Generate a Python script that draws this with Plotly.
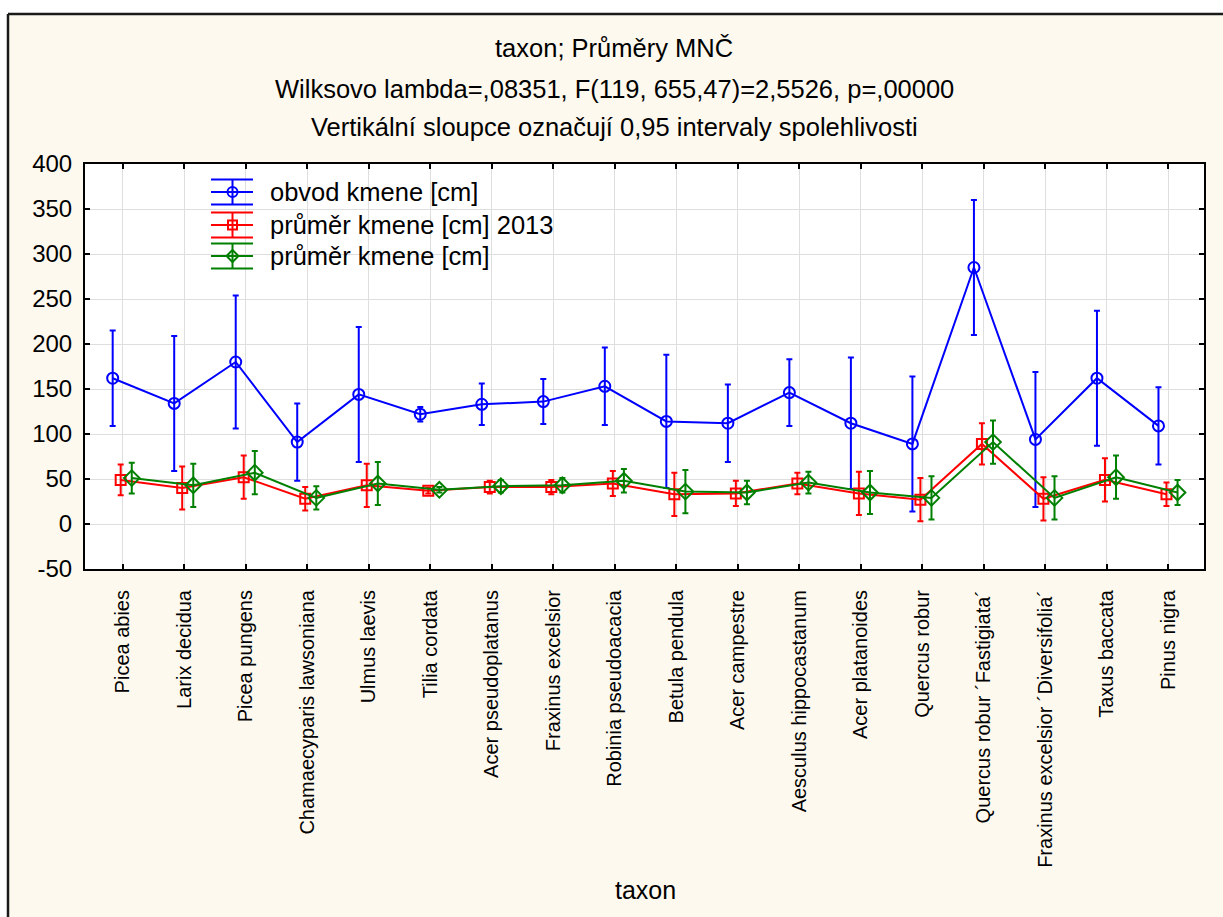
import plotly.graph_objects as go

# Taxa on the x axis
taxa = [
    "Picea abies", "Larix decidua", "Picea pungens", "Chamaecyparis lawsoniana",
    "Ulmus laevis", "Tilia cordata", "Acer pseudoplatanus", "Fraxinus excelsior",
    "Robinia pseudoacacia", "Betula pendula", "Acer campestre",
    "Aesculus hippocastanum", "Acer platanoides", "Quercus robur",
    "Quercus robur \u00b4Fastigiata\u00b4", "Fraxinus excelsior \u00b4Diversifolia\u00b4",
    "Taxus baccata", "Pinus nigra",
]

# Least-squares means and 0.95 confidence half-widths
obvod_mean = [162, 134, 180, 91, 144, 122, 133, 136, 153, 114, 112, 146, 112, 89, 285, 94, 162, 109]
obvod_ci = [53, 75, 74, 43, 75, 8, 23, 25, 43, 74, 43, 37, 73, 75, 75, 75, 75, 43]

prumer2013_mean = [49, 40, 52, 28, 43, 37, 41, 41, 45, 33, 34, 45, 34, 27, 89, 28, 49, 33]
prumer2013_ci = [17, 24, 24, 13, 24, 3, 7, 8, 14, 24, 14, 12, 24, 24, 23, 24, 24, 13]

prumer_mean = [51, 43, 57, 29, 45, 38, 42, 43, 48, 36, 35, 46, 35, 29, 91, 29, 52, 35]
prumer_ci = [17, 24, 24, 13, 24, 3, 7, 8, 13, 24, 13, 12, 24, 24, 24, 24, 24, 14]

# y axis ticks
y_ticks = [-50, 0, 50, 100, 150, 200, 250, 300, 350, 400]
y_ticktext = [str(v) for v in y_ticks]

series = [
    ("obvod kmene [cm]", obvod_mean, obvod_ci, "#0000ff", "circle-open", 11, -0.16),
    ("pr\u016fm\u011br kmene [cm] 2013", prumer2013_mean, prumer2013_ci, "#ff0000", "square-open", 10, -0.03),
    ("pr\u016fm\u011br kmene [cm]", prumer_mean, prumer_ci, "#008000", "diamond-open", 12, 0.15),
]

W, H = 1223, 917
ML, MR, MT, MB = 85, 19, 164, 348
PW, PH = W - ML - MR, H - MT - MB
FONT = "Liberation Sans, Arial, sans-serif"
CREAM = "#fdf9ee"


def fx(px):
    return (px - ML) / PW


def fy(py):
    return (MT + PH - py) / PH


fig = go.Figure()
for name, mean, ci, color, symbol, size, off in series:
    fig.add_trace(go.Scatter(
        x=[i + off for i in range(len(taxa))],
        y=mean,
        mode="lines+markers",
        name=name,
        line=dict(color=color, width=2),
        marker=dict(symbol=symbol, size=size, color=color, line=dict(width=2, color=color)),
        error_y=dict(type="data", array=ci, visible=True, color=color, thickness=2, width=3),
        showlegend=False,
    ))

shapes = []
# white margin strips and the dark frame edge of the panel
shapes.append(dict(type="rect", xref="paper", yref="paper", x0=fx(-5), x1=fx(W + 5),
                   y0=fy(-5), y1=fy(13), fillcolor="white", line=dict(width=0)))
shapes.append(dict(type="rect", xref="paper", yref="paper", x0=fx(-5), x1=fx(7),
                   y0=fy(-5), y1=fy(H + 5), fillcolor="white", line=dict(width=0)))
shapes.append(dict(type="line", xref="paper", yref="paper", x0=fx(8), x1=fx(W + 5),
                   y0=fy(14), y1=fy(14), line=dict(color="#1a1a1a", width=2.5)))
shapes.append(dict(type="line", xref="paper", yref="paper", x0=fx(8), x1=fx(8),
                   y0=fy(14), y1=fy(H + 5), line=dict(color="#1a1a1a", width=2.5)))

annotations = []
# custom legend with error-bar glyphs
leg_rows = [192, 225, 256]
lx0, lx1, lxc = 211, 253, 232.5
for (name, mean, ci, color, symbol, size, off), cy in zip(series, leg_rows):
    for dy in (-12.5, 0, 12.5):
        shapes.append(dict(type="line", xref="paper", yref="paper", x0=fx(lx0), x1=fx(lx1),
                           y0=fy(cy + dy), y1=fy(cy + dy), line=dict(color=color, width=2)))
    shapes.append(dict(type="line", xref="paper", yref="paper", x0=fx(lxc), x1=fx(lxc),
                       y0=fy(cy - 12.5), y1=fy(cy + 12.5), line=dict(color=color, width=2)))
    if symbol.startswith("circle"):
        shapes.append(dict(type="circle", xref="paper", yref="paper", x0=fx(lxc - 5), x1=fx(lxc + 5),
                           y0=fy(cy + 5), y1=fy(cy - 5), line=dict(color=color, width=2)))
    elif symbol.startswith("square"):
        shapes.append(dict(type="rect", xref="paper", yref="paper", x0=fx(lxc - 4.5), x1=fx(lxc + 4.5),
                           y0=fy(cy + 4.5), y1=fy(cy - 4.5), line=dict(color=color, width=2)))
    else:
        r = 6
        path = "M {} {} L {} {} L {} {} L {} {} Z".format(
            fx(lxc), fy(cy - r), fx(lxc + r), fy(cy), fx(lxc), fy(cy + r), fx(lxc - r), fy(cy))
        shapes.append(dict(type="path", xref="paper", yref="paper", path=path,
                           line=dict(color=color, width=2)))
    annotations.append(dict(text=name, xref="paper", yref="paper", x=fx(268), y=fy(cy),
                            xanchor="left", yanchor="middle", showarrow=False,
                            font=dict(family=FONT, size=25.5, color="black")))

# title lines
title_lines = [
    ("taxon; Pr\u016fm\u011bry MN\u010c", 48),
    ("Wilksovo lambda=,08351, F(119, 655,47)=2,5526, p=,00000", 89),
    ("Vertik\u00e1ln\u00ed sloupce ozna\u010duj\u00ed 0,95 intervaly spolehlivosti", 127),
]
for txt, py in title_lines:
    annotations.append(dict(text=txt, xref="paper", yref="paper", x=fx(614), y=fy(py),
                            xanchor="center", yanchor="middle", showarrow=False,
                            font=dict(family=FONT, size=25.5, color="black")))

# x axis title
annotations.append(dict(text="taxon", xref="paper", yref="paper", x=fx(645), y=fy(890),
                        xanchor="center", yanchor="middle", showarrow=False,
                        font=dict(family=FONT, size=25, color="black")))

fig.update_layout(
    width=W, height=H,
    margin=dict(l=ML, r=MR, t=MT, b=MB, autoexpand=False),
    paper_bgcolor=CREAM,
    plot_bgcolor="white",
    shapes=shapes,
    annotations=annotations,
    showlegend=False,
    font=dict(family=FONT, color="black"),
)
fig.update_xaxes(
    range=[-0.61, 17.58],
    tickmode="array",
    tickvals=list(range(len(taxa))),
    ticktext=taxa,
    tickangle=-90,
    tickfont=dict(family=FONT, size=20, color="black"),
    ticks="inside", ticklen=5, tickwidth=1.5, tickcolor="black",
    ticklabelstandoff=11,
    showgrid=True, gridcolor="#dedede", gridwidth=1,
    showline=True, linecolor="black", linewidth=2, mirror="ticks",
    zeroline=False,
)
fig.update_yaxes(
    range=[-50, 400],
    tickmode="array", tickvals=y_ticks, ticktext=y_ticktext,
    tickfont=dict(family=FONT, size=24, color="black"),
    ticks="inside", ticklen=5, tickwidth=1.5, tickcolor="black",
    ticklabelstandoff=6,
    showgrid=True, gridcolor="#dedede", gridwidth=1,
    showline=True, linecolor="black", linewidth=2, mirror="ticks",
    zeroline=False,
)

fig.write_html("out.html")
